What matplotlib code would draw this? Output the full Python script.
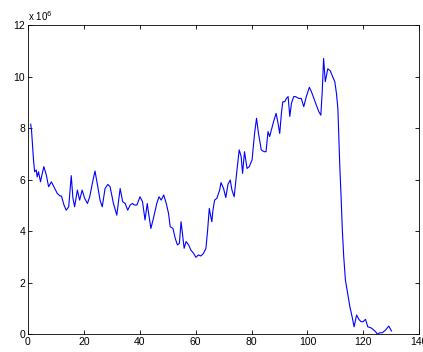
import numpy as np
import matplotlib
matplotlib.use('Agg')
import matplotlib.pyplot as plt

# Sample positions and signal (units of 1e6)
x_vals = [1.0, 1.3, 2.0, 2.4, 3.0, 3.3, 3.8, 4.5, 5.0, 5.7, 6.6, 7.4, 8.4,
          9.6, 10.5, 11.5, 12.0, 12.9, 13.7, 14.6, 15.5, 16.1, 16.7, 17.7,
          18.5, 19.4, 20.3, 21.3, 22.1, 23.3, 24.0, 25.0, 25.8, 26.6, 27.6,
          28.6, 29.4, 30.6, 31.8, 33.0, 33.9, 34.8, 35.7, 36.6, 37.4, 38.1,
          39.0, 40.1, 41.0, 41.9, 42.7, 43.1, 44.0, 44.9, 46.1, 46.9, 47.7,
          48.6, 49.5, 50.3, 50.9, 51.9, 52.7, 53.5, 54.2, 54.8, 55.4, 55.9,
          56.6, 57.5, 58.3, 59.3, 60.1, 61.0, 61.9, 62.8, 63.7, 64.3, 64.9,
          65.2, 65.8, 66.2, 66.8, 67.6, 68.6, 69.1, 70.0, 70.8, 71.6, 72.4,
          73.0, 73.8, 74.8, 75.6, 76.3, 76.8, 77.5, 78.4, 79.2, 80.2, 81.1,
          81.8, 82.5, 83.5, 84.5, 85.2, 85.9, 86.5, 87.1, 87.9, 88.8, 89.5,
          90.1, 90.7, 91.2, 91.9, 92.5, 93.1, 93.7, 94.3, 95.1, 95.7, 96.9,
          97.8, 98.7, 99.6, 100.7, 101.4, 102.3, 103.2, 104.1, 104.8, 105.3,
          105.8, 106.4, 107.3, 108.2, 109.0, 109.8, 110.4, 110.9, 111.2,
          111.6, 112.1, 112.5, 113.0, 113.6, 114.5, 115.2, 116.0, 116.7,
          117.6, 118.4, 119.2, 119.9, 120.8, 121.6, 122.6, 123.5, 124.4,
          125.0, 125.9, 126.8, 128.0, 129.1, 130.1]
y_vals = [8.15, 7.9, 6.76, 6.3, 6.37, 6.1, 6.3, 5.91, 6.17, 6.5, 6.17, 5.72,
          5.91, 5.65, 5.46, 5.36, 5.36, 5.01, 4.81, 4.94, 6.15, 5.28, 4.94,
          5.59, 5.2, 5.59, 5.27, 5.07, 5.33, 5.98, 6.33, 5.72, 5.2, 4.94,
          5.65, 5.81, 5.72, 5.07, 4.62, 5.65, 5.14, 5.07, 4.81, 5.01, 5.07,
          5.01, 5.01, 5.33, 5.14, 4.43, 5.07, 4.75, 4.1, 4.49, 5.07, 5.33,
          5.2, 5.4, 5.07, 4.69, 4.17, 4.1, 3.72, 3.46, 3.52, 4.36, 3.78, 3.33,
          3.59, 3.46, 3.26, 3.13, 2.98, 3.07, 3.03, 3.13, 3.33, 4.04, 4.88,
          4.69, 4.36, 4.81, 5.2, 5.27, 5.59, 5.88, 5.65, 5.3, 5.82, 5.98,
          5.59, 5.33, 6.37, 7.15, 6.89, 6.24, 7.08, 6.43, 6.5, 6.76, 7.79,
          8.38, 7.79, 7.15, 7.08, 7.08, 7.86, 7.67, 7.92, 8.25, 8.57, 8.18,
          7.79, 8.57, 9.02, 9.02, 9.15, 9.22, 8.45, 8.96, 9.22, 9.22, 9.15,
          9.15, 8.83, 9.22, 9.58, 9.42, 9.15, 8.89, 8.63, 8.5, 9.4, 10.7, 9.8,
          10.3, 10.22, 10.0, 9.8, 9.34, 8.76, 7.79, 6.5, 5.2, 4.04, 3.0, 2.1,
          1.51, 1.06, 0.67, 0.28, 0.74, 0.57, 0.48, 0.48, 0.57, 0.28, 0.25,
          0.18, 0.09, 0.0, 0.05, 0.05, 0.16, 0.31, 0.12]

x_ticks = [0, 20, 40, 60, 80, 100, 120, 140]
y_ticks = [0, 2, 4, 6, 8, 10, 12]

plt.rcParams['font.family'] = ['Liberation Sans', 'DejaVu Sans']

fig = plt.figure(figsize=(4.23, 3.52), dpi=100)
ax = fig.add_axes([0.066, 0.051, 0.925, 0.878])
ax.plot(x_vals, y_vals, color='#0000ff', lw=0.8)

ax.set_xlim(0, 140)
ax.set_ylim(0, 12)
ax.set_xticks(x_ticks)
ax.set_yticks(y_ticks)
ax.tick_params(direction='in', top=True, right=True, labelsize=7.5,
               length=3, width=0.6, pad=2)
for sp in ax.spines.values():
    sp.set_linewidth(0.6)

ax.text(0.0, 1.005, r'x 10$^{6}$', transform=ax.transAxes, fontsize=7,
        ha='left', va='bottom')

fig.savefig('out.png', dpi=100, facecolor='white')
